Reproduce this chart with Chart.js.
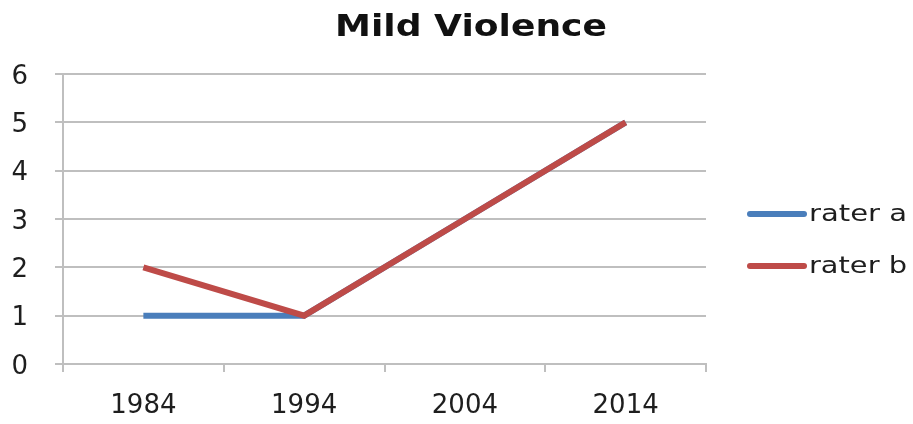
<!DOCTYPE html>
<html>
<head>
<meta charset="utf-8">
<script src="https://cdn.jsdelivr.net/npm/chart.js@4"></script>
<style>
  html, body { margin: 0; padding: 0; background: #fff; }
  #wrap { width: 913px; height: 424px; }
</style>
</head>
<body>
<div id="wrap"><canvas id="chart" width="913" height="424"></canvas></div>
<script>
// Chart data
const years = ['1984', '1994', '2004', '2014'];
const raterA = [1, 1, 3, 5];
const raterB = [2, 1, 3, 5];
const yTicks = [0, 1, 2, 3, 4, 5, 6];
const titleText = 'Mild Violence';

const blue = '#4a7ebb';
const red = '#be4b48';
const gridColor = '#bfbfbf';
const textColor = '#1e1e1e';
const fontFamily = "'DejaVu Sans', sans-serif";

// draw text squeezed/stretched to a given width
function drawWide(ctx, text, x, y, width, align) {
    const w = ctx.measureText(text).width;
    const sx = width / w;
    ctx.save();
    ctx.translate(x, y);
    ctx.scale(sx, 1);
    ctx.textAlign = align;
    ctx.fillText(text, 0, 0);
    ctx.restore();
}

// Title and legend drawn by hand, like the original
const decorations = {
    id: 'decorations',
    afterDraw(chart) {
        const ctx = chart.ctx;
        ctx.save();
        ctx.fillStyle = '#111';
        ctx.textBaseline = 'alphabetic';
        ctx.font = 'bold 31px ' + fontFamily;
        drawWide(ctx, titleText, 471, 36, 272, 'center');

        ctx.font = '23px ' + fontFamily;
        ctx.textBaseline = 'middle';
        chart.data.datasets.forEach((ds, i) => {
            const y = 214 + i * 52;
            ctx.strokeStyle = ds.borderColor;
            ctx.lineWidth = 6;
            ctx.lineCap = 'round';
            ctx.beginPath();
            ctx.moveTo(750, y);
            ctx.lineTo(804, y);
            ctx.stroke();
            ctx.fillStyle = textColor;
            drawWide(ctx, ds.label, 809, y + 1, 98, 'left');
        });
        ctx.restore();
    }
};

new Chart(document.getElementById('chart'), {
    type: 'line',
    data: {
        labels: years,
        datasets: [
            {
                label: 'rater a',
                data: raterA,
                borderColor: blue,
                backgroundColor: blue,
                borderWidth: 6,
                pointRadius: 0,
                tension: 0,
                order: 1
            },
            {
                label: 'rater b',
                data: raterB,
                borderColor: red,
                backgroundColor: red,
                borderWidth: 6,
                pointRadius: 0,
                tension: 0,
                order: 0
            }
        ]
    },
    options: {
        responsive: false,
        animation: false,
        layout: { padding: { right: 207, top: 74, bottom: 0, left: 0 } },
        plugins: {
            legend: { display: false },
            tooltip: { enabled: false },
            title: { display: false }
        },
        scales: {
            x: {
                offset: true,
                grid: {
                    offset: true,
                    drawOnChartArea: false,
                    drawTicks: true,
                    tickLength: 8,
                    color: gridColor,
                    lineWidth: 2
                },
                border: { color: gridColor, width: 2 },
                ticks: {
                    color: textColor,
                    font: { size: 26, family: fontFamily },
                    padding: 19
                },
                afterFit(scale) { scale.height = 60; }
            },
            y: {
                min: yTicks[0],
                max: yTicks[yTicks.length - 1],
                afterBuildTicks(scale) {
                    scale.ticks = yTicks.map(v => ({ value: v }));
                },
                grid: {
                    color: gridColor,
                    lineWidth: 2,
                    tickLength: 8
                },
                border: { color: gridColor, width: 2 },
                ticks: {
                    color: textColor,
                    font: { size: 26, family: fontFamily },
                    padding: 27,
                    labelOffset: 3
                },
                afterFit(scale) { scale.width = 63; }
            }
        }
    },
    plugins: [decorations]
});
</script>
</body>
</html>
